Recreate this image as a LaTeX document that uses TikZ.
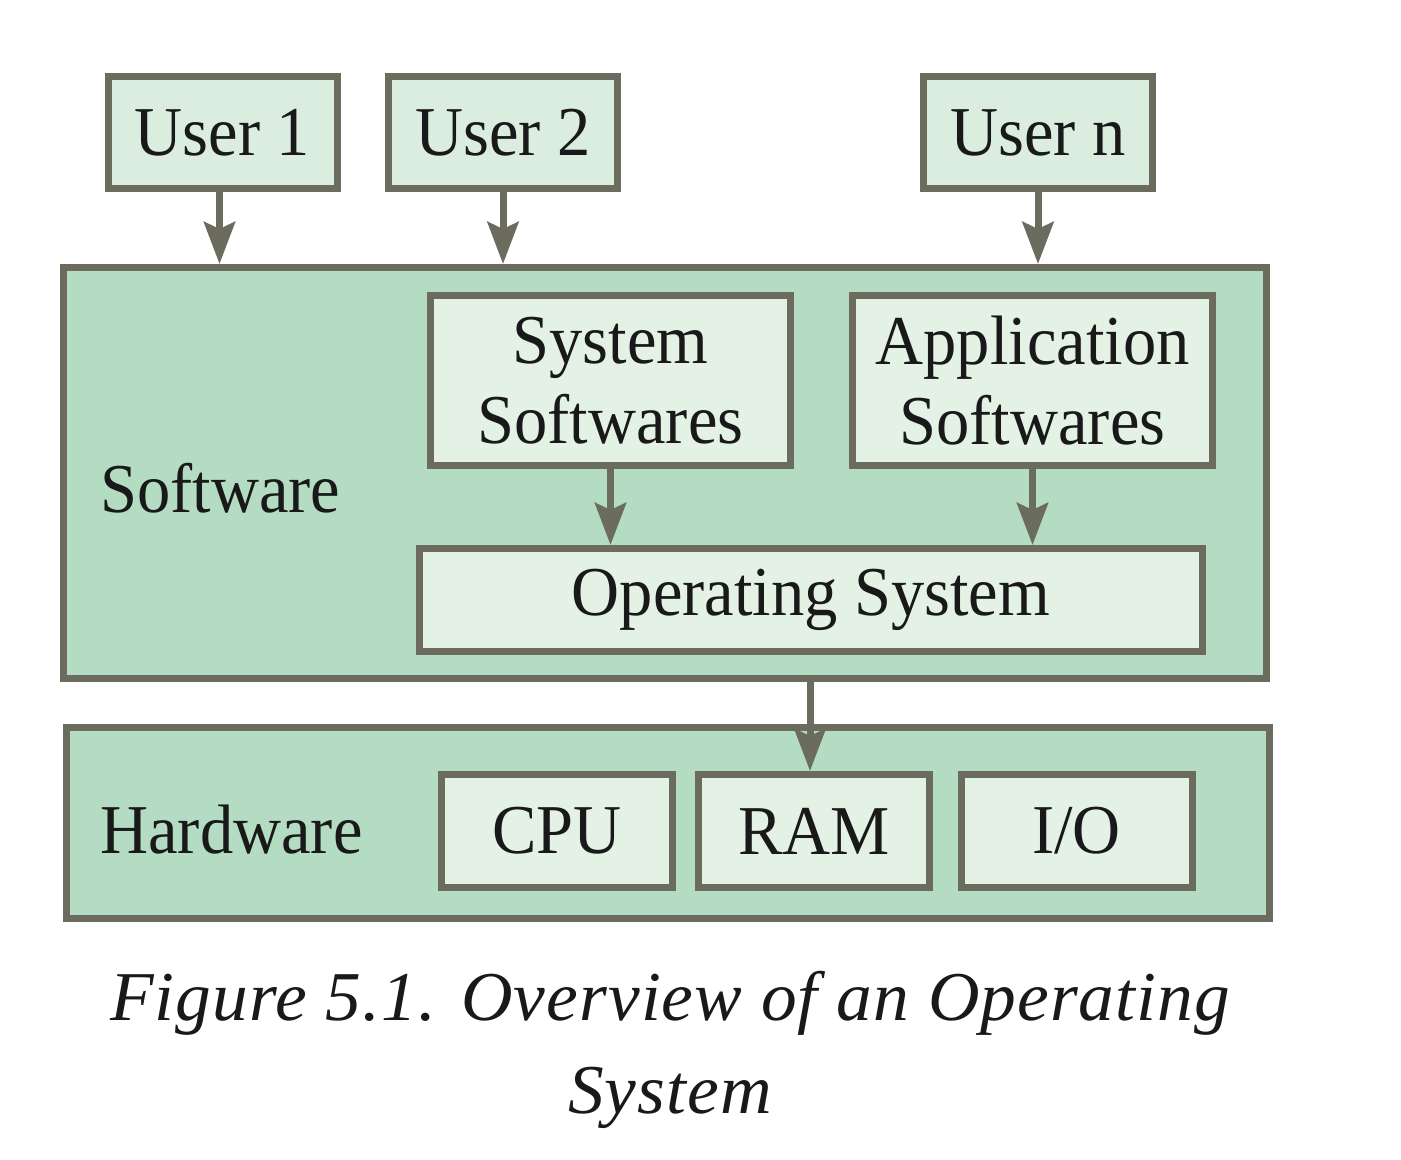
\documentclass[tikz,border=0pt]{standalone}
\usepackage{fontspec}
\setmainfont{Liberation Serif}[FakeStretch=0.95]
\newfontfamily\capfont{Liberation Serif}[FakeStretch=1.02, LetterSpace=1.5]
\usetikzlibrary{arrows.meta}
\definecolor{edgecol}{HTML}{6B6B5E}
\definecolor{outerfill}{HTML}{B3DCC2}
\definecolor{innerfill}{HTML}{E3F2E5}
\definecolor{userfill}{HTML}{DAEDDF}
\begin{document}
\begin{tikzpicture}[x=0.5pt,y=-0.5pt,
  box/.style={draw=edgecol, line width=3.5pt, inner sep=0pt, align=center,
    font=\fontsize{35}{40}\selectfont, text=black!90},
  outerbox/.style={box, fill=outerfill},
  innerbox/.style={box, fill=innerfill},
  userbox/.style={box, fill=userfill, minimum width=114.5pt, minimum height=56pt},
  hwbox/.style={box, fill=innerfill, minimum width=115.5pt, minimum height=56.5pt},
  lbl/.style={font=\fontsize{35}{40}\selectfont, inner sep=0pt, text=black!90},
  arr/.style={draw=edgecol, line width=3.5pt,
    -{Stealth[length=21pt, width=15.5pt, inset=3.5pt]}}]
\useasboundingbox (0,0) rectangle (1401,1160);
% users
\node[userbox] (u1) at (222.5,132.5) {User 1};
\node[userbox] (u2) at (503,132.5) {User 2};
\node[userbox] (un) at (1038,132.5) {User n};
% software
\node[outerbox, minimum width=601.5pt, minimum height=205.5pt] (sw) at (665,473) {};
\node[lbl, anchor=west] (swl) at (100,488) {Software};
\node[innerbox, minimum width=180pt, minimum height=85pt] (ss) at (610.5,380.5) {System\\Softwares};
\node[innerbox, minimum width=180pt, minimum height=85pt] (as) at (1032.5,380.5) {Application\\Softwares};
\node[innerbox, minimum width=391.5pt, minimum height=51.5pt] (os) at (811,600) {Operating System};
% hardware
\node[outerbox, minimum width=601.5pt, minimum height=95.5pt] (hw) at (668,823) {};
\node[lbl, anchor=west] (hwl) at (100,830) {Hardware};
\node[hwbox] (cpu) at (557,831) {CPU};
\node[hwbox] (ram) at (814,831) {RAM};
\node[hwbox] (io) at (1076.5,831) {I/O};
% arrows
\draw[arr] ([xshift=-1.5pt]u1.south) -- ([xshift=-1.5pt]u1.south |- sw.north);
\draw[arr] (u2.south) -- (u2.south |- sw.north);
\draw[arr] (un.south) -- (un.south |- sw.north);
\draw[arr] (ss.south) -- (ss.south |- os.north);
\draw[arr] (as.south) -- (as.south |- os.north);
\draw[arr] ([xshift=-2pt]sw.south -| ram.north) -- ([xshift=-2pt]ram.north);
% caption
\node[lbl, align=center, font=\fontsize{35}{46.5}\selectfont\capfont\itshape] (cap) at (670,1050)
  {Figure 5.1. Overview of an Operating\\System};
\end{tikzpicture}
\end{document}
